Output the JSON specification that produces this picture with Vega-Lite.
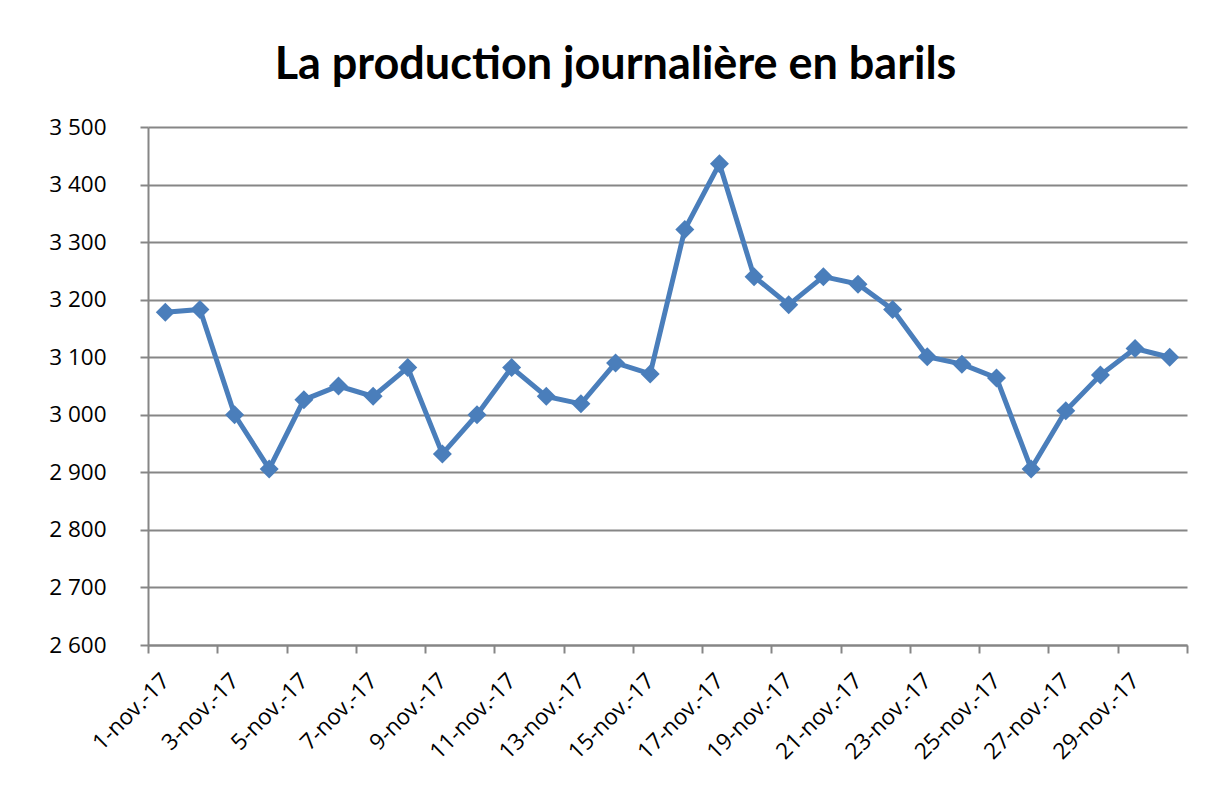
{
  "$schema": "https://vega.github.io/schema/vega-lite/v6.json",
  "autosize": "none",
  "width": 1039,
  "height": 518,
  "padding": {"left": 148, "top": 127, "right": 22, "bottom": 153},
  "background": "white",
  "config": {"view": {"stroke": null}},
  "title": {
    "text": "La production journalière en barils",
    "font": "Lato",
    "fontWeight": "bold",
    "fontSize": 45,
    "color": "black",
    "anchor": "middle",
    "dx": -52,
    "offset": 28
  },
  "data": {
    "values": [
      {"day": 1, "barils": 3178},
      {"day": 2, "barils": 3183},
      {"day": 3, "barils": 3000},
      {"day": 4, "barils": 2906},
      {"day": 5, "barils": 3026},
      {"day": 6, "barils": 3050},
      {"day": 7, "barils": 3032},
      {"day": 8, "barils": 3082},
      {"day": 9, "barils": 2932},
      {"day": 10, "barils": 3000},
      {"day": 11, "barils": 3082},
      {"day": 12, "barils": 3032},
      {"day": 13, "barils": 3019},
      {"day": 14, "barils": 3090},
      {"day": 15, "barils": 3071},
      {"day": 16, "barils": 3322},
      {"day": 17, "barils": 3436},
      {"day": 18, "barils": 3240},
      {"day": 19, "barils": 3191},
      {"day": 20, "barils": 3240},
      {"day": 21, "barils": 3227},
      {"day": 22, "barils": 3183},
      {"day": 23, "barils": 3101},
      {"day": 24, "barils": 3088},
      {"day": 25, "barils": 3064},
      {"day": 26, "barils": 2906},
      {"day": 27, "barils": 3007},
      {"day": 28, "barils": 3069},
      {"day": 29, "barils": 3115},
      {"day": 30, "barils": 3100}
    ]
  },
  "mark": {
    "type": "line",
    "color": "#4A7EBB",
    "strokeWidth": 5,
    "point": {"shape": "diamond", "size": 361, "filled": true, "color": "#4A7EBB", "opacity": 1}
  },
  "encoding": {
    "x": {
      "field": "day",
      "type": "quantitative",
      "scale": {"domain": [0.5, 30.5], "nice": false, "zero": false},
      "axis": {
        "title": null,
        "grid": false,
        "values": [0.5, 1, 2.5, 3, 4.5, 5, 6.5, 7, 8.5, 9, 10.5, 11, 12.5, 13, 14.5, 15, 16.5, 17, 18.5, 19, 20.5, 21, 22.5, 23, 24.5, 25, 26.5, 27, 28.5, 29, 30.5],
        "labelExpr": "datum.value % 1 === 0 ? datum.value + '-nov.-17' : ''",
        "labelOverlap": false,
        "labelBound": false,
        "labelFlush": false,
        "labelAngle": -45,
        "labelAlign": "right",
        "labelBaseline": "middle",
        "labelPadding": 24,
        "labelFont": "Open Sans",
        "labelFontSize": 22.5,
        "labelColor": "black",
        "domainColor": "#868686",
        "domainWidth": 2,
        "tickColor": "#868686",
        "tickWidth": 2,
        "tickSize": 8,
        "tickOpacity": {"condition": {"test": "datum.value % 1 === 0", "value": 0}, "value": 1}
      }
    },
    "y": {
      "field": "barils",
      "type": "quantitative",
      "scale": {"domain": [2600, 3500], "nice": false, "zero": false},
      "axis": {
        "title": null,
        "values": [2600, 2700, 2800, 2900, 3000, 3100, 3200, 3300, 3400, 3500],
        "labelExpr": "replace(format(datum.value, ',d'), ',', ' ')",
        "labelFont": "Open Sans",
        "labelFontSize": 22.5,
        "labelColor": "black",
        "labelPadding": 34,
        "grid": true,
        "gridColor": "#868686",
        "gridWidth": 2,
        "domainColor": "#868686",
        "domainWidth": 2,
        "tickColor": "#868686",
        "tickWidth": 2,
        "tickSize": 8
      }
    }
  }
}
